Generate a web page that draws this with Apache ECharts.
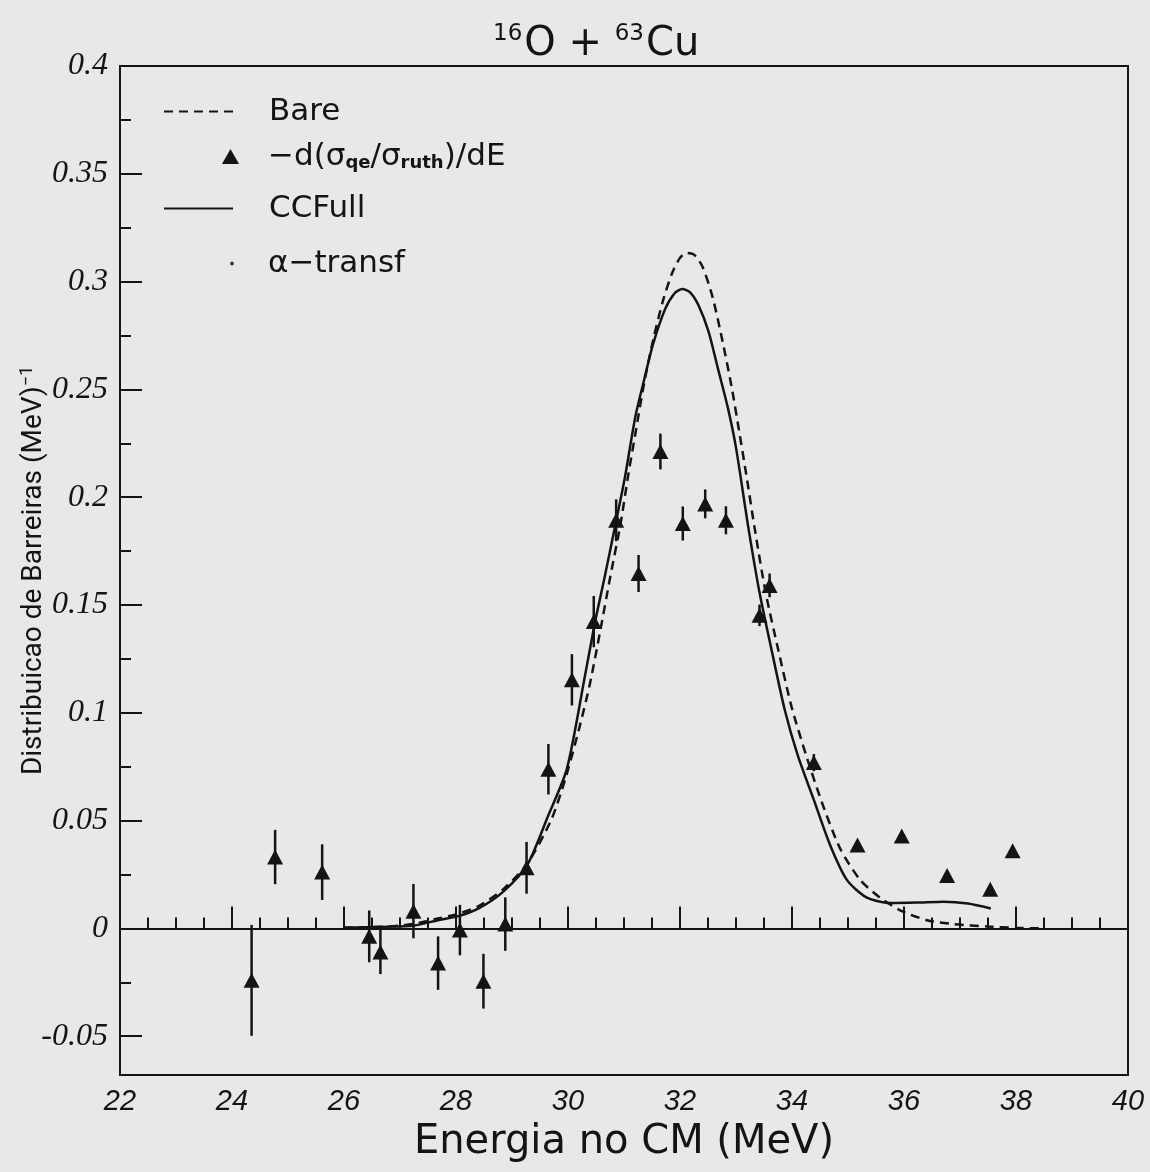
<!DOCTYPE html>
<html><head><meta charset="utf-8">
<script src="https://cdn.jsdelivr.net/npm/echarts@6/dist/echarts.min.js"></script>
<style>html,body{margin:0;padding:0;background:#e7e9e6;} #c{width:1150px;height:1172px;}</style>
</head><body><div id="c"></div>
<script>
// Experimental barrier distribution: -d(σqe/σruth)/dE
const expEnergy = [24.35, 24.77, 25.61, 26.45, 26.65, 27.24, 27.68, 28.07, 28.49, 28.88, 29.26, 29.65, 30.07, 30.46, 30.86, 31.26, 31.65, 32.05, 32.45, 32.82, 33.42, 33.60, 34.39, 35.17, 35.96, 36.77, 37.54, 37.94];
const expValue  = [-0.0241, 0.0331, 0.0261, -0.0037, -0.0109, 0.0080, -0.0161, -0.0008, -0.0245, 0.0020, 0.0281, 0.0738, 0.1153, 0.1423, 0.1893, 0.1646, 0.2212, 0.1878, 0.1969, 0.1893, 0.1452, 0.1591, 0.0769, 0.0387, 0.0429, 0.0245, 0.0182, 0.0360];
const expError  = [0.0257, 0.0126, 0.0129, 0.0120, 0.0103, 0.0126, 0.0124, 0.0117, 0.0127, 0.0124, 0.0120, 0.0117, 0.0119, 0.0119, 0.0097, 0.0086, 0.0083, 0.0079, 0.0067, 0.0065, 0.0050, 0.0055, 0.0040, 0.0020, 0.0020, 0.0010, 0.0010, 0.0020];

// Bare (dashed) calculation
const bareEnergy = [26.0, 26.74, 27.22, 27.70, 28.06, 28.42, 28.85, 29.27, 29.70, 29.95, 30.20, 30.39, 30.58, 30.75, 30.94, 31.08, 31.20, 31.36, 31.53, 31.70, 31.86, 32.00, 32.12, 32.25, 32.40, 32.58, 32.75, 32.92, 33.06, 33.18, 33.34, 33.53, 33.76, 33.99, 34.25, 34.54, 34.86, 35.22, 35.57, 35.93, 36.41, 36.89, 37.49, 38.03, 38.5];
const bareValue  = [0.0003, 0.0008, 0.0020, 0.0047, 0.0069, 0.0106, 0.0183, 0.0299, 0.0503, 0.0692, 0.0928, 0.1133, 0.1386, 0.1624, 0.1879, 0.2110, 0.2290, 0.2530, 0.2740, 0.2915, 0.3040, 0.3110, 0.3133, 0.3125, 0.3070, 0.2930, 0.2735, 0.2514, 0.2300, 0.2110, 0.1845, 0.1557, 0.1286, 0.1030, 0.0805, 0.0580, 0.0370, 0.0224, 0.0143, 0.0084, 0.0038, 0.0020, 0.0009, 0.0002, 0.0];

// CCFull (solid) calculation
const ccfullEnergy = [26.0, 26.74, 27.22, 27.70, 28.06, 28.42, 28.85, 29.27, 29.64, 29.98, 30.30, 30.48, 30.65, 30.85, 31.01, 31.20, 31.36, 31.51, 31.73, 31.90, 32.04, 32.18, 32.33, 32.51, 32.68, 32.85, 33.00, 33.22, 33.42, 33.64, 33.87, 34.10, 34.39, 34.68, 34.98, 35.33, 35.75, 36.23, 36.71, 37.14, 37.55];
const ccfullValue  = [0.0003, 0.0008, 0.0012, 0.0039, 0.0058, 0.0095, 0.0172, 0.0293, 0.0519, 0.0740, 0.1167, 0.1418, 0.1624, 0.1877, 0.2083, 0.2370, 0.2545, 0.2702, 0.2870, 0.2945, 0.2966, 0.2950, 0.2890, 0.2768, 0.2594, 0.2420, 0.2230, 0.1860, 0.1558, 0.1286, 0.1014, 0.0805, 0.0596, 0.0387, 0.0225, 0.0144, 0.0118, 0.0120, 0.0124, 0.0115, 0.0092];

// α-transf (legend entry only, no visible curve)
const alphaEnergy = [];
const alphaValue = [];

const yMajorTicks = [-0.05, 0, 0.05, 0.1, 0.15, 0.2, 0.25, 0.3, 0.35, 0.4];
const yMinorTicks = [-0.025, 0.025, 0.075, 0.125, 0.175, 0.225, 0.275, 0.325, 0.375];

const INK = '#141414';
const zip = (a, b) => a.map((v, i) => [v, b[i]]);
const expData = expEnergy.map((e, i) => [e, expValue[i], expError[i]]);

const chart = echarts.init(document.getElementById('c'), null, {renderer: 'canvas'});

const legendText = {color: INK, fontFamily: 'DejaVu Sans', fontSize: 31};
function mkLegend(name, left, top, w, h, pad, extra) {
  return Object.assign({
    data: [name], left: left, top: top, orient: 'vertical', padding: 0,
    itemWidth: w, itemHeight: h, selectedMode: false,
    textStyle: Object.assign({}, legendText, {padding: [0, 0, 0, pad]})
  }, extra || {});
}

const EXP_NAME = '-d(σqe/σruth)/dE';

chart.setOption({
  backgroundColor: '#e7e9e6',
  animation: false,
  title: {
    text: '{sup|16}O + {sup|63}Cu',
    left: 488, top: 18,
    textStyle: {
      color: INK, fontFamily: 'DejaVu Sans', fontSize: 40, fontWeight: 'normal',
      rich: {sup: {fontSize: 23, verticalAlign: 'top', padding: [0, 2, 20, 0], fontFamily: 'DejaVu Sans', color: INK}}
    }
  },
  legend: [
    mkLegend('Bare', 163, 96, 69, 2, 31, {itemStyle: {color: 'transparent', borderWidth: 0}}),
    mkLegend(EXP_NAME, 222, 141, 17, 15, 24, {
      formatter: () => '−d(σ{s|qe}/σ{s|ruth})/dE',
      textStyle: Object.assign({}, legendText, {
        padding: [0, 0, 0, 24],
        rich: {s: {fontSize: 18, fontFamily: 'DejaVu Sans', fontWeight: 'bold', color: INK, verticalAlign: 'bottom', padding: [12, 0, 0, 0]}}
      })
    }),
    mkLegend('CCFull', 163, 193, 69, 2, 31, {itemStyle: {color: 'transparent', borderWidth: 0}}),
    mkLegend('α−transf', 230, 248, 4, 4, 29)
  ],
  grid: {
    left: 120, right: 22, top: 66, bottom: 97,
    outerBoundsMode: 'none',
    show: true, borderColor: INK, borderWidth: 2, backgroundColor: 'transparent',
    containLabel: false
  },
  xAxis: {
    type: 'value', min: 22, max: 40, interval: 2,
    name: 'Energia no CM (MeV)', nameLocation: 'middle', nameGap: 48,
    nameTextStyle: {color: INK, fontFamily: 'DejaVu Sans', fontSize: 40},
    axisLine: {show: true, lineStyle: {color: INK, width: 2}},
    axisTick: {show: true, inside: true, length: 22, lineStyle: {color: INK, width: 2}},
    minorTick: {show: true, splitNumber: 4, length: 11, lineStyle: {color: INK, width: 2}},
    axisLabel: {color: INK, fontFamily: 'Liberation Sans', fontStyle: 'italic', fontSize: 29, margin: 12},
    splitLine: {show: false}, minorSplitLine: {show: false}
  },
  yAxis: [{
    type: 'value', min: -0.068, max: 0.4,
    name: 'Distribuicao de Barreiras (MeV){sup|−1}', nameLocation: 'middle', nameGap: 70, nameRotate: 90,
    nameMoveOverlap: false,
    nameTextStyle: {
      color: INK, fontFamily: 'Roboto', fontSize: 28,
      rich: {sup: {fontSize: 18, fontFamily: 'Roboto', color: INK, verticalAlign: 'top', padding: [0, 0, 14, 0]}}
    },
    axisLine: {show: true, lineStyle: {color: INK, width: 2}},
    axisTick: {show: true, inside: true, length: 22, customValues: yMajorTicks, lineStyle: {color: INK, width: 2}},
    axisLabel: {
      color: INK, fontFamily: 'Liberation Serif', fontStyle: 'italic', fontWeight: 'normal', fontSize: 32, margin: 12,
      customValues: yMajorTicks,
      formatter: v => String(Math.round(v * 1000) / 1000)
    },
    splitLine: {show: false}
  }, {
    type: 'value', min: -0.068, max: 0.4, position: 'left', offset: 0,
    axisLine: {show: false},
    axisTick: {show: true, inside: true, length: 11, customValues: yMinorTicks, lineStyle: {color: INK, width: 2}},
    axisLabel: {show: false},
    splitLine: {show: false}
  }],
  series: [
    {
      name: 'Bare', type: 'line', data: zip(bareEnergy, bareValue),
      symbol: 'none', smooth: 0.25, clip: true,
      lineStyle: {color: INK, width: 2.5, type: [9, 6]},
      itemStyle: {color: INK}
    },
    {
      name: 'CCFull', type: 'line', data: zip(ccfullEnergy, ccfullValue),
      symbol: 'none', smooth: 0.25, clip: true,
      lineStyle: {color: INK, width: 2.5, type: 'solid'},
      itemStyle: {color: INK},
      markLine: {
        silent: true, symbol: ['none', 'none'], label: {show: false},
        lineStyle: {color: INK, width: 2, type: 'solid'},
        data: [{yAxis: 0}]
      }
    },
    {
      name: 'errbar', type: 'custom', data: expData, silent: true,
      renderItem: function (params, api) {
        const x = api.value(0), y = api.value(1), e = api.value(2);
        const p1 = api.coord([x, y - e]);
        const p2 = api.coord([x, y + e]);
        return {type: 'line', shape: {x1: p1[0], y1: p1[1], x2: p2[0], y2: p2[1]},
                style: {stroke: INK, lineWidth: 2.5}};
      },
      z: 3
    },
    {
      name: EXP_NAME, type: 'scatter', data: zip(expEnergy, expValue),
      symbol: 'triangle', symbolSize: [16, 15],
      itemStyle: {color: INK, opacity: 1}, z: 4
    },
    {
      name: 'α−transf', type: 'scatter', data: zip(alphaEnergy, alphaValue),
      symbol: 'circle', symbolSize: 4, itemStyle: {color: INK}
    }
  ]
});
</script>
</body></html>
